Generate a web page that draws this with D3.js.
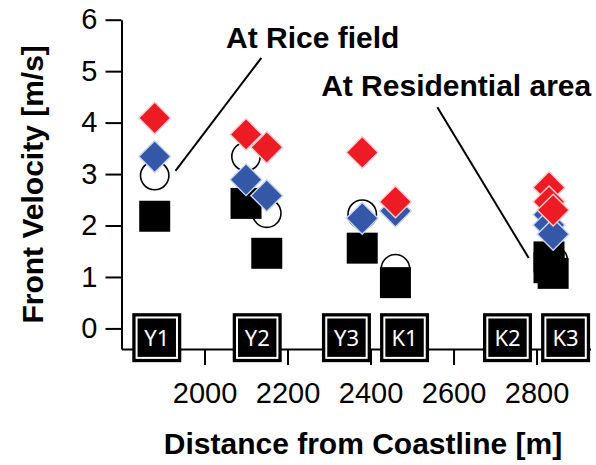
<!DOCTYPE html>
<html>
<head>
<meta charset="utf-8">
<script src="https://cdn.jsdelivr.net/npm/d3@7"></script>
<style>
  html, body { margin: 0; padding: 0; background: #fff; }
  svg { display: block; }
</style>
</head>
<body>
<svg id="chart" width="596" height="465"></svg>
<script>
// Measurement sites along the transect (distance from coastline, m)
const siteNames = ["Y1", "Y2", "Y3", "K1", "K2", "K3"];
const siteDistances = [1885, 2127, 2342, 2482, 2730, 2870];

// Front velocity series [m/s] against distance [m]
const redDistances = [1880, 2100, 2150, 2380, 2460, 2830, 2830, 2840];
const redVelocities = [4.09, 3.77, 3.52, 3.42, 2.46, 2.74, 2.46, 2.30];

const blueDistances = [1880, 2100, 2150, 2380, 2460, 2830, 2830, 2840];
const blueVelocities = [3.34, 2.89, 2.58, 2.14, 2.28, 2.21, 2.01, 1.83];

const circleDistances = [1880, 2100, 2150, 2380, 2460, 2840];
const circleVelocities = [2.97, 3.34, 2.24, 2.22, 1.16, 1.33];

const squareDistances = [1880, 2100, 2150, 2380, 2460, 2830, 2830, 2840];
const squareVelocities = [2.18, 2.43, 1.46, 1.56, 0.89, 1.39, 1.18, 1.07];

// Axis ticks
const distanceTicks = [2000, 2200, 2400, 2600, 2800];
const velocityTicks = [0, 1, 2, 3, 4, 5, 6];

const svg = d3.select("#chart");
const FONT = "'Liberation Sans', Arial, Helvetica, sans-serif";

const x = d3.scaleLinear().domain([1800, 2930]).range([121.5, 590.5]);
const y = d3.scaleLinear().domain([-0.4, 6]).range([349, 19.7]);

// Axes
const yAxis = svg.append("g")
  .attr("transform", `translate(${x.range()[0]},0)`)
  .call(d3.axisLeft(y).tickValues(velocityTicks).tickFormat(d3.format("d"))
    .tickSize(16).tickSizeOuter(0).tickPadding(8));

const xAxis = svg.append("g")
  .attr("transform", `translate(0,${y.range()[0]})`)
  .call(d3.axisBottom(x).tickValues(distanceTicks).tickFormat(d3.format("d"))
    .tickSize(16).tickSizeOuter(0).tickPadding(17));

[yAxis, xAxis].forEach(g => {
  g.select(".domain").attr("stroke", "#000").attr("stroke-width", 2);
  g.selectAll(".tick line").attr("stroke", "#000").attr("stroke-width", 2);
  g.selectAll(".tick text").attr("fill", "#000")
    .style("font-family", FONT).style("font-size", "29px");
});

// Axis titles
svg.append("text")
  .attr("transform", `translate(43,${(y(6) + y(-0.4)) / 2}) rotate(-90)`)
  .attr("text-anchor", "middle")
  .style("font-family", FONT).style("font-weight", "bold").style("font-size", "30px")
  .text("Front Velocity [m/s]");

svg.append("text")
  .attr("x", 363).attr("y", 454)
  .attr("text-anchor", "middle")
  .style("font-family", FONT).style("font-weight", "bold").style("font-size", "30px")
  .text("Distance from Coastline [m]");

// Site label boxes sitting on the distance axis
const siteLevel = -0.18;
const boxSize = 49;
const sites = siteNames.map((name, i) => ({ name, dist: siteDistances[i] }));
const siteG = svg.append("g").selectAll("g").data(sites).join("g")
  .attr("transform", d => `translate(${x(d.dist)},${y(siteLevel)})`);
siteG.append("rect")
  .attr("x", -boxSize / 2).attr("y", -boxSize / 2)
  .attr("width", boxSize).attr("height", boxSize).attr("fill", "#000");
siteG.append("rect")
  .attr("x", -boxSize / 2 + 4.3).attr("y", -boxSize / 2 + 4.3)
  .attr("width", boxSize - 8.6).attr("height", boxSize - 8.6)
  .attr("fill", "none").attr("stroke", "#fff").attr("stroke-width", 2);
siteG.append("text")
  .attr("text-anchor", "middle").attr("dy", "0.36em")
  .attr("fill", "#fff")
  .style("font-family", "'Noto Sans', 'Open Sans', sans-serif").style("font-size", "22px")
  .text(d => d.name);

// Annotation leaders and labels
const notes = [
  { text: "At Rice field", tx: 2052, ty: 5.45, from: [2137, 5.26], to: [1930, 3.06] },
  { text: "At Residential area", tx: 2281, ty: 4.52, from: [2561, 4.30], to: [2781, 1.37] }
];
const noteG = svg.append("g");
noteG.selectAll("line").data(notes).join("line")
  .attr("x1", d => x(d.from[0])).attr("y1", d => y(d.from[1]))
  .attr("x2", d => x(d.to[0])).attr("y2", d => y(d.to[1]))
  .attr("stroke", "#000").attr("stroke-width", 2);
noteG.selectAll("text").data(notes).join("text")
  .attr("x", d => x(d.tx)).attr("y", d => y(d.ty))
  .style("font-family", FONT).style("font-weight", "bold").style("font-size", "30px")
  .text(d => d.text);

// Points
const zip = (ds, vs) => ds.map((d, i) => ({ d, v: vs[i] }));
const plot = svg.append("g");

plot.append("g").selectAll("circle").data(zip(circleDistances, circleVelocities)).join("circle")
  .attr("cx", p => x(p.d)).attr("cy", p => y(p.v)).attr("r", 14.2)
  .attr("fill", "#fff").attr("stroke", "#000").attr("stroke-width", 1.6);

const squareSym = d3.symbol().type(d3.symbolSquare).size(31 * 31);
plot.append("g").selectAll("path").data(zip(squareDistances, squareVelocities)).join("path")
  .attr("transform", p => `translate(${x(p.d)},${y(p.v)})`)
  .attr("d", squareSym).attr("fill", "#000");

const diamondSym = d3.symbol().type(d3.symbolSquare).size(22.5 * 22.5);
plot.append("g").selectAll("path").data(zip(blueDistances, blueVelocities)).join("path")
  .attr("transform", p => `translate(${x(p.d)},${y(p.v)}) rotate(45)`)
  .attr("d", diamondSym).attr("fill", "#3557a8")
  .attr("stroke", "#c9d5f0").attr("stroke-width", 1.4);

plot.append("g").selectAll("path").data(zip(redDistances, redVelocities)).join("path")
  .attr("transform", p => `translate(${x(p.d)},${y(p.v)}) rotate(45)`)
  .attr("d", diamondSym).attr("fill", "#ed1c24")
  .attr("stroke", "#fbcdd0").attr("stroke-width", 1.4);
</script>
</body>
</html>
